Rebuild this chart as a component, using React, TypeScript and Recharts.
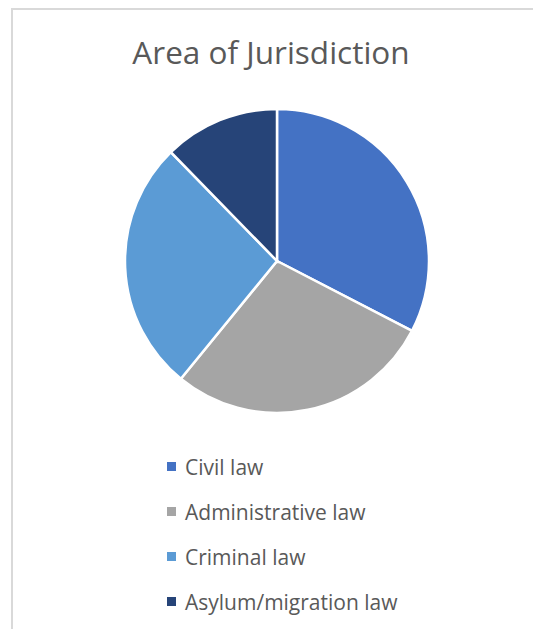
import { PieChart, Pie, Cell } from 'recharts';

const categories = ['Civil law', 'Administrative law', 'Criminal law', 'Asylum/migration law'];
const shares = [32.6, 28.3, 26.8, 12.3];
const colors = ['#4472C4', '#A5A5A5', '#5B9BD5', '#264478'];

const data = categories.map((name, i) => ({ name, value: shares[i] }));

const FONT = '"Open Sans", sans-serif';

export default function App() {
    return (
        <div style={{ position: 'fixed', left: 0, top: 0, width: 533, height: 629, overflow: 'hidden', background: '#fff' }}>
            <div
                style={{
                    position: 'absolute',
                    left: 11,
                    top: 8,
                    width: 600,
                    height: 700,
                    border: '2px solid #d9d9d9',
                }}
            />
            <div
                style={{
                    position: 'absolute',
                    left: 0,
                    width: 542,
                    top: 32,
                    textAlign: 'center',
                    fontFamily: FONT,
                    fontSize: 31.5,
                    color: '#595959',
                    lineHeight: '40px',
                }}
            >
                Area of Jurisdiction
            </div>
            <div style={{ position: 'absolute', left: 0, top: 0 }}>
                <PieChart width={533} height={629} margin={{ top: 0, right: 0, bottom: 0, left: 0 }}>
                    <Pie
                        data={data}
                        dataKey="value"
                        nameKey="name"
                        cx={277}
                        cy={261}
                        outerRadius={152}
                        startAngle={90}
                        endAngle={-270}
                        stroke="#ffffff"
                        strokeWidth={2.5}
                        isAnimationActive={false}
                    >
                        {data.map((d, i) => (
                            <Cell key={d.name} fill={colors[i]} />
                        ))}
                    </Pie>
                </PieChart>
            </div>
            <div style={{ position: 'absolute', left: 167, top: 444, fontFamily: FONT }}>
                {categories.map((name, i) => (
                    <div
                        key={name}
                        style={{ display: 'flex', alignItems: 'center', height: 45, color: '#595959', fontSize: 21 }}
                    >
                        <span
                            style={{ width: 9, height: 9, background: colors[i], display: 'inline-block', marginRight: 9 }}
                        />
                        <span>{name}</span>
                    </div>
                ))}
            </div>
        </div>
    );
}
